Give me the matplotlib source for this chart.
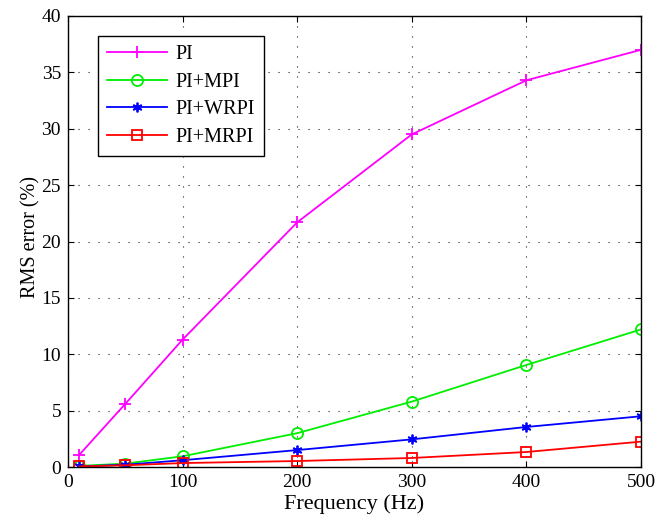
import matplotlib
matplotlib.use('Agg')
import matplotlib.pyplot as plt

# frequencies and RMS error for each controller
freq = [10, 50, 100, 200, 300, 400, 500]
pi_err = [1.1, 5.6, 11.3, 21.7, 29.5, 34.3, 37.0]
pi_mpi = [0.1, 0.3, 0.95, 3.0, 5.8, 9.05, 12.2]
pi_wrpi = [0.05, 0.2, 0.6, 1.5, 2.45, 3.55, 4.5]
pi_mrpi = [0.05, 0.15, 0.35, 0.53, 0.8, 1.33, 2.25]
labels = ['PI', 'PI+MPI', 'PI+WRPI', 'PI+MRPI']

plt.rcParams['font.family'] = ['Liberation Serif']
plt.rcParams['font.size'] = 14.5

fig = plt.figure(figsize=(6.7, 5.17), dpi=100)
# axes box: x 68..641 px, y 16..467 px
ax = fig.add_axes([68 / 670, 50 / 517, 573 / 670, 451 / 517])

lw = 1.3
ax.plot(freq, pi_err, color='#ff00ff', marker='+', markersize=9, mew=lw, lw=lw, label=labels[0])
ax.plot(freq, pi_mpi, color='#00ee00', marker='o', markersize=8, mfc='none', mew=lw, lw=lw, label=labels[1])
ax.plot(freq, pi_wrpi, color='#0000ff', marker=(6, 2, 0), markersize=7, mew=lw, lw=lw, label=labels[2])
ax.plot(freq, pi_mrpi, color='#ff0000', marker='s', markersize=6.5, mfc='none', mew=lw, lw=lw, label=labels[3])

ax.set_xlim(0, 500)
ax.set_ylim(0, 40)
ax.set_xticks(range(0, 501, 100))
ax.set_yticks(range(0, 41, 5))
ax.tick_params(direction='in', top=True, right=True, length=4, width=0.8, pad=5,
               labelsize=14)
ax.grid(True, linestyle=(0, (1, 8)), color='#222222', lw=0.8)
for s in ax.spines.values():
    s.set_linewidth(1.0)

ax.set_xlabel('Frequency (Hz)', fontsize=16, va='center')
ax.xaxis.set_label_coords(0.5, -0.082)
ax.set_ylabel('RMS error (%)', fontsize=14.5, va='center')
ax.yaxis.set_label_coords(-0.064, 0.51)

leg = ax.legend(loc='upper left', bbox_to_anchor=((98 - 68) / 573, (467 - 36) / 451),
                borderaxespad=0, fancybox=False, framealpha=1, edgecolor='black',
                handlelength=3.0, handletextpad=0.4, borderpad=0.45,
                labelspacing=0.42, fontsize=14.5)
leg.get_frame().set_linewidth(1.0)

fig.savefig('out.png', dpi=100)
